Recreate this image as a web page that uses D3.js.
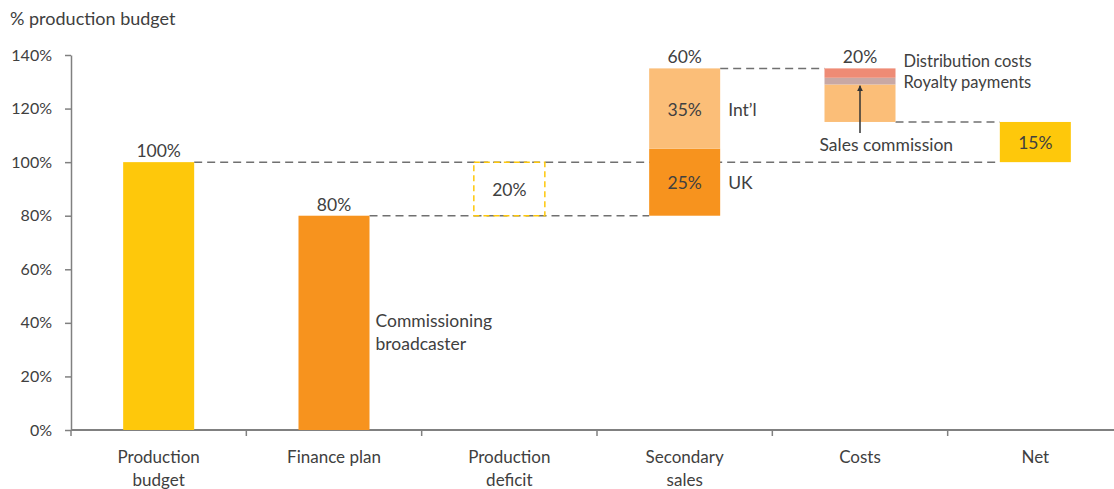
<!DOCTYPE html>
<html>
<head>
<meta charset="utf-8">
<script src="https://cdn.jsdelivr.net/npm/d3@7"></script>
<style>
  body { margin: 0; background: #fff; }
  svg { display: block; font-family: Lato, 'Open Sans', sans-serif; }
</style>
</head>
<body>
<div id="chart"></div>
<script>
// categories on the x axis (each line of a label is a separate entry)
const categories = ['Production budget', 'Finance plan', 'Production deficit', 'Secondary sales', 'Costs', 'Net'];
const categoryLines = [['Production', 'budget'], ['Finance plan'], ['Production', 'deficit'], ['Secondary', 'sales'], ['Costs'], ['Net']];

// waterfall segments (values in % of production budget)
const segCategory = ['Production budget', 'Finance plan', 'Production deficit', 'Secondary sales', 'Secondary sales', 'Costs', 'Costs', 'Costs', 'Net'];
const segName = ['Budget', 'Commissioning broadcaster', 'Deficit', 'UK', 'Int\u2019l', 'Sales commission', 'Royalty payments', 'Distribution costs', 'Net'];
const segLow = [0, 0, 80, 80, 105, 115, 129, 131.5, 100];
const segHigh = [100, 80, 100, 105, 135, 129, 131.5, 135, 115];
const segInnerLabel = ['', '', '20%', '25%', '35%', '', '', '', '15%'];

// totals shown above each column
const totalCategory = ['Production budget', 'Finance plan', 'Secondary sales', 'Costs'];
const totalValue = [100, 80, 135, 135];
const totalLabel = ['100%', '80%', '60%', '20%'];

// dashed connectors between columns
const connFrom = ['Production budget', 'Finance plan', 'Secondary sales', 'Costs'];
const connTo = ['Net', 'Secondary sales', 'Costs', 'Net'];
const connLevel = [100, 80, 135, 115];

const yTicks = [0, 20, 40, 60, 80, 100, 120, 140];

const colors = {
  'Budget': '#FEC80B',
  'Commissioning broadcaster': '#F7931E',
  'Deficit': 'none',
  'UK': '#F7931E',
  'Int\u2019l': '#FBBE78',
  'Sales commission': '#FBBE78',
  'Royalty payments': '#C8A8A4',
  'Distribution costs': '#EE8B75',
  'Net': '#FEC80B'
};

const width = 1114;
const height = 489;
const margin = { t: 55, l: 71, b: 59 };
const textColor = '#404040';
const axisColor = '#808080';
const fontSize = 17.5;

const svg = d3.select('#chart').append('svg')
  .attr('width', width)
  .attr('height', height)
  .attr('viewBox', [0, 0, width, height]);

const x = d3.scaleBand()
  .domain(categories)
  .range([margin.l, 1123])
  .padding(0);

const y = d3.scaleLinear()
  .domain([0, 140])
  .range([height - margin.b, margin.t]);

const barW = x.bandwidth() * 0.405;
const barX = (c) => x(c) + (x.bandwidth() - barW) / 2;

// axis title
svg.append('text')
  .attr('x', 10)
  .attr('y', 25)
  .attr('fill', textColor)
  .attr('font-size', fontSize + 0.5)
  .text('% production budget');

// y axis
svg.append('g')
  .attr('transform', `translate(${margin.l},0)`)
  .call(d3.axisLeft(y).tickValues(yTicks).tickFormat((d) => d + '%').tickSize(6).tickSizeOuter(0).tickPadding(13))
  .call((g) => g.select('.domain').attr('stroke', axisColor).attr('stroke-width', 1.5))
  .call((g) => g.selectAll('.tick line').attr('stroke', axisColor).attr('stroke-width', 1.5))
  .call((g) => g.selectAll('.tick text')
    .attr('fill', textColor)
    .attr('font-size', 16)
    .attr('font-family', 'Lato, sans-serif'));

// x axis
const xAxis = svg.append('g')
  .attr('transform', `translate(0,${y(0)})`);
xAxis.append('line')
  .attr('x1', margin.l)
  .attr('x2', width)
  .attr('stroke', axisColor)
  .attr('stroke-width', 2);
xAxis.selectAll('.edge')
  .data(categories)
  .join('line')
  .attr('class', 'edge')
  .attr('x1', (d) => x(d))
  .attr('x2', (d) => x(d))
  .attr('y1', 0)
  .attr('y2', 6)
  .attr('stroke', axisColor)
  .attr('stroke-width', 1.5);
xAxis.selectAll('.cat')
  .data(categories)
  .join('text')
  .attr('class', 'cat')
  .attr('text-anchor', 'middle')
  .attr('fill', textColor)
  .attr('font-size', 17)
  .selectAll('tspan')
  .data((d, i) => categoryLines[i].map((line) => ({ line, c: d })))
  .join('tspan')
  .attr('x', (d) => x(d.c) + x.bandwidth() / 2)
  .attr('y', (d, i) => 33 + i * 23)
  .text((d) => d.line);

// connectors
svg.append('g')
  .selectAll('line')
  .data(connLevel)
  .join('line')
  .attr('x1', (d, i) => barX(connFrom[i]) + barW)
  .attr('x2', (d, i) => barX(connTo[i]))
  .attr('y1', (d) => y(d))
  .attr('y2', (d) => y(d))
  .attr('stroke', '#707070')
  .attr('stroke-width', 1.5)
  .attr('stroke-dasharray', '8,5');

// segments
const segs = segName.map((name, i) => ({
  name, cat: segCategory[i], low: segLow[i], high: segHigh[i], label: segInnerLabel[i]
}));

svg.append('g')
  .selectAll('rect')
  .data(segs)
  .join('rect')
  .attr('x', (d) => barX(d.cat))
  .attr('y', (d) => y(d.high))
  .attr('width', barW)
  .attr('height', (d) => y(d.low) - y(d.high))
  .attr('fill', (d) => colors[d.name])
  .attr('stroke', (d) => d.name === 'Deficit' ? '#FEC80B' : 'none')
  .attr('stroke-width', 1.5)
  .attr('stroke-dasharray', (d) => d.name === 'Deficit' ? '6,4' : null);

// labels inside segments
svg.append('g')
  .selectAll('text')
  .data(segs.filter((d) => d.label))
  .join('text')
  .attr('x', (d) => barX(d.cat) + barW / 2)
  .attr('y', (d) => (y(d.low) + y(d.high)) / 2 + 7)
  .attr('text-anchor', 'middle')
  .attr('fill', textColor)
  .attr('font-size', fontSize)
  .text((d) => d.label);

// totals above columns
svg.append('g')
  .selectAll('text')
  .data(totalLabel)
  .join('text')
  .attr('x', (d, i) => barX(totalCategory[i]) + barW / 2)
  .attr('y', (d, i) => y(totalValue[i]) - 5)
  .attr('text-anchor', 'middle')
  .attr('fill', textColor)
  .attr('font-size', fontSize)
  .text((d) => d);

// side annotations
const side = svg.append('g')
  .attr('fill', textColor)
  .attr('font-size', fontSize);

const fp = segs[1];
side.append('text')
  .attr('x', barX(fp.cat) + barW + 6)
  .attr('y', y(40))
  .selectAll('tspan')
  .data(['Commissioning', 'broadcaster'])
  .join('tspan')
  .attr('x', barX(fp.cat) + barW + 6)
  .attr('dy', (d, i) => i === 0 ? 4 : 23)
  .text((d) => d);

[segs[3], segs[4]].forEach((d) => {
  side.append('text')
    .attr('x', barX(d.cat) + barW + 8)
    .attr('y', (y(d.low) + y(d.high)) / 2 + 7)
    .text(d.name);
});

side.append('text')
  .attr('x', barX('Costs') + barW + 8)
  .attr('y', y(135.5))
  .attr('font-size', 16.5)
  .text('Distribution costs');
side.append('text')
  .attr('x', barX('Costs') + barW + 8)
  .attr('y', y(127.6))
  .attr('font-size', 16.5)
  .text('Royalty payments');

const sc = segs[5];
side.append('text')
  .attr('x', barX(sc.cat) - 5)
  .attr('y', y(sc.low) + 29)
  .text(sc.name);

// arrow pointing at sales commission
svg.append('defs').append('marker')
  .attr('id', 'arrow')
  .attr('viewBox', '0 0 10 10')
  .attr('refX', 9)
  .attr('refY', 5)
  .attr('markerWidth', 4)
  .attr('markerHeight', 4)
  .attr('orient', 'auto')
  .append('path')
  .attr('d', 'M0,0L10,5L0,10z')
  .attr('fill', '#333');

svg.append('line')
  .attr('x1', barX(sc.cat) + barW / 2)
  .attr('x2', barX(sc.cat) + barW / 2)
  .attr('y1', y(sc.low) + 11)
  .attr('y2', y(128.5))
  .attr('stroke', '#333')
  .attr('stroke-width', 1.5)
  .attr('marker-end', 'url(#arrow)');
</script>
</body>
</html>
